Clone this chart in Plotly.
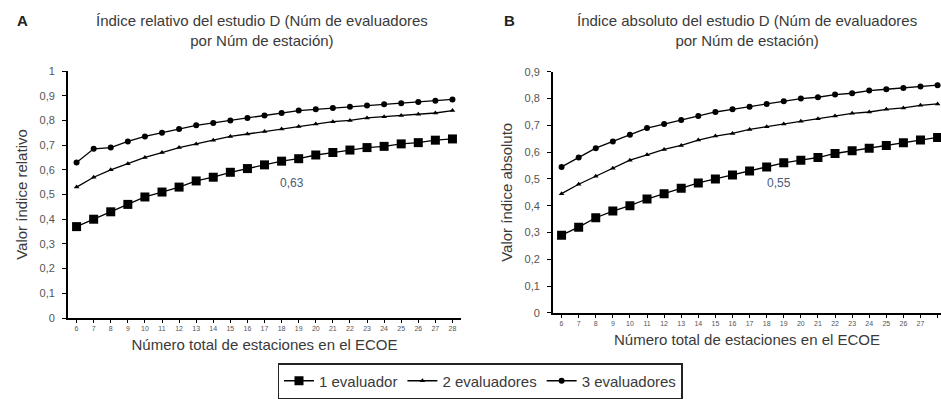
import plotly.graph_objects as go

estaciones = list(range(6, 29))

rel_1 = [0.37, 0.40, 0.43, 0.46, 0.49, 0.51, 0.53, 0.555, 0.57, 0.59, 0.605, 0.62,
         0.635, 0.645, 0.66, 0.67, 0.68, 0.69, 0.695, 0.705, 0.71, 0.72, 0.725]
rel_2 = [0.53, 0.57, 0.60, 0.625, 0.65, 0.67, 0.69, 0.705, 0.72, 0.735, 0.745, 0.755,
         0.765, 0.775, 0.785, 0.795, 0.80, 0.81, 0.815, 0.82, 0.825, 0.83, 0.84]
rel_3 = [0.63, 0.685, 0.69, 0.715, 0.735, 0.75, 0.765, 0.78, 0.79, 0.80, 0.81, 0.82,
         0.83, 0.84, 0.845, 0.85, 0.855, 0.86, 0.865, 0.87, 0.875, 0.88, 0.885]

abs_1 = [0.29, 0.32, 0.355, 0.38, 0.40, 0.425, 0.445, 0.465, 0.485, 0.50, 0.515, 0.53,
         0.545, 0.56, 0.57, 0.58, 0.595, 0.605, 0.615, 0.625, 0.635, 0.645, 0.655]
abs_2 = [0.445, 0.48, 0.51, 0.54, 0.57, 0.59, 0.61, 0.625, 0.645, 0.66, 0.67, 0.685,
         0.695, 0.705, 0.715, 0.725, 0.735, 0.745, 0.75, 0.76, 0.765, 0.775, 0.78]
abs_3 = [0.545, 0.58, 0.615, 0.64, 0.665, 0.69, 0.705, 0.72, 0.735, 0.75, 0.76, 0.77,
         0.78, 0.79, 0.80, 0.805, 0.815, 0.82, 0.83, 0.835, 0.84, 0.845, 0.85]

series_names = ["1 evaluador", "2 evaluadores", "3 evaluadores"]
yticks_a = [0, 0.1, 0.2, 0.3, 0.4, 0.5, 0.6, 0.7, 0.8, 0.9, 1]
yticklabels_a = ["0", "0,1", "0,2", "0,3", "0,4", "0,5", "0,6", "0,7", "0,8", "0,9", "1"]
yticks_b = [0, 0.1, 0.2, 0.3, 0.4, 0.5, 0.6, 0.7, 0.8, 0.9]
yticklabels_b = ["0", "0,1", "0,2", "0,3", "0,4", "0,5", "0,6", "0,7", "0,8", "0,9"]

ann_a = (18.6, 0.547, "0,63")
ann_b = (18.7, 0.484, "0,55")

FONT = "Liberation Sans, Arial, sans-serif"
TXT = "#3a3a3a"

symbols = ["square", "triangle-up", "circle"]
sizes = [9, 5, 6]

fig = go.Figure()
for data, xa, ya, show in [((rel_1, rel_2, rel_3), "x", "y", True),
                           ((abs_1, abs_2, abs_3), "x2", "y2", False)]:
    for i, vals in enumerate(data):
        fig.add_trace(go.Scatter(
            x=estaciones, y=vals, xaxis=xa, yaxis=ya,
            mode="lines+markers", name=series_names[i], showlegend=show,
            line=dict(color="black", width=1.3),
            marker=dict(symbol=symbols[i], size=sizes[i], color="black"),
        ))

yaxis_common = dict(showgrid=False, zeroline=False, showline=True, linecolor="black",
                    linewidth=2, ticks="outside", tickcolor="black", ticklen=4,
                    ticklabelstandoff=5,
                    tickfont=dict(size=11, color="#555", family=FONT))
xaxis_common = dict(showgrid=False, zeroline=False, showline=True, linecolor="black",
                    linewidth=2, ticks="outside", tickcolor="black", ticklen=3,
                    tickfont=dict(size=7, color="#555", family=FONT))

xtitle = "Número total de estaciones en el ECOE"

fig.update_layout(
    width=941, height=399,
    margin=dict(l=0, r=0, t=0, b=0, autoexpand=False),
    paper_bgcolor="white", plot_bgcolor="white",
    font=dict(family=FONT, color=TXT),
    xaxis=dict(domain=[0.0723, 0.4899], range=[5.5, 28.5], anchor="y",
               tickvals=estaciones, ticktext=[str(v) for v in estaciones],
               title=dict(text=xtitle, font=dict(size=15, color=TXT), standoff=8),
               **xaxis_common),
    yaxis=dict(domain=[0.203, 0.822], range=[0, 1], anchor="x",
               tickvals=yticks_a, ticktext=yticklabels_a,
               title=dict(text="Valor índice relativo", font=dict(size=15, color=TXT), standoff=8),
               **yaxis_common),
    xaxis2=dict(domain=[0.5877, 1.0], range=[5.5, 28.2], anchor="y2",
                tickvals=estaciones, ticktext=[str(v) for v in estaciones],
                title=dict(text=xtitle, font=dict(size=15, color=TXT), standoff=8),
                **xaxis_common),
    yaxis2=dict(domain=[0.216, 0.820], range=[0, 0.9], anchor="x2",
                tickvals=yticks_b, ticktext=yticklabels_b,
                title=dict(text="Valor índice absoluto", font=dict(size=15, color=TXT), standoff=8),
                **yaxis_common),
    legend=dict(orientation="h", x=480 / 941, xanchor="center", y=0, yanchor="bottom",
                yref="container",
                bordercolor="#222", borderwidth=1.5, font=dict(size=15, color=TXT, family=FONT),
                itemwidth=30, tracegroupgap=0, bgcolor="white"),
    showlegend=True,
)

fig.add_annotation(x=ann_a[0], y=ann_a[1], xref="x", yref="y", text=ann_a[2], showarrow=False,
                   font=dict(size=12, color="#4a5a78"))
fig.add_annotation(x=ann_b[0], y=ann_b[1], xref="x2", yref="y2", text=ann_b[2], showarrow=False,
                   font=dict(size=12, color="#4a5a78"))

# Panel letters and titles
fig.add_annotation(x=22 / 941, y=1 - 21 / 399, xref="paper", yref="paper", text="<b>A</b>",
                   xanchor="center", yanchor="middle",
                   showarrow=False, font=dict(size=15, color="#222"))
fig.add_annotation(x=509 / 941, y=1 - 21 / 399, xref="paper", yref="paper", text="<b>B</b>",
                   xanchor="center", yanchor="middle",
                   showarrow=False, font=dict(size=15, color="#222"))
fig.add_annotation(x=262 / 941, y=1 - 30 / 399, xref="paper", yref="paper",
                   xanchor="center", yanchor="middle",
                   text="Índice relativo del estudio D (Núm de evaluadores<br>por Núm de estación)",
                   showarrow=False, font=dict(size=15, color=TXT))
fig.add_annotation(x=747 / 941, y=1 - 30 / 399, xref="paper", yref="paper",
                   xanchor="center", yanchor="middle",
                   text="Índice absoluto del estudio D (Núm de evaluadores<br>por Núm de estación)",
                   showarrow=False, font=dict(size=15, color=TXT))

fig.write_html("out.html")
